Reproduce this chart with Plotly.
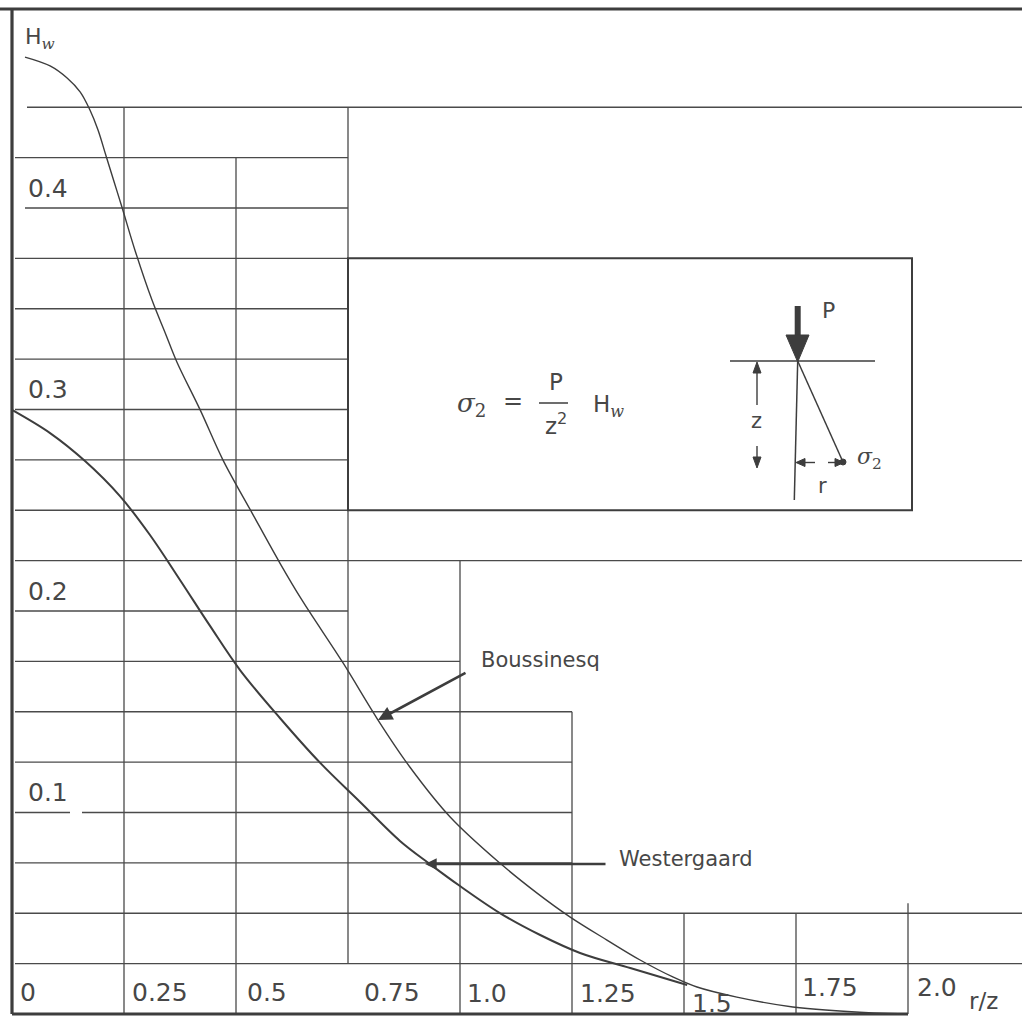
import plotly.graph_objects as go

# ---------------- data ----------------
rz_boussinesq = [0.029, 0.085, 0.123, 0.152, 0.174, 0.192, 0.210, 0.228, 0.246, 0.275,
                 0.3125, 0.342, 0.368, 0.420, 0.471, 0.536, 0.598, 0.647, 0.739, 0.817,
                 0.888, 0.978, 1.089, 1.172, 1.246, 1.328, 1.402, 1.475,
                 1.529, 1.618, 1.743, 1.922, 2.0]
h_boussinesq = [0.4749, 0.4705, 0.4645, 0.4576, 0.4486, 0.4387, 0.4258, 0.4129, 0.400, 0.3787,
                0.3543, 0.3380, 0.3236, 0.2998, 0.2749, 0.2486, 0.2238, 0.2055, 0.1742, 0.1459,
                0.1226, 0.0978, 0.0749, 0.0600, 0.0481, 0.0367, 0.0268, 0.0184,
                0.0134, 0.0084, 0.0035, 0.0005, 0.0]

rz_westergaard = [0.0, 0.085, 0.163, 0.241, 0.308, 0.375, 0.442, 0.509, 0.598, 0.688,
                  0.777, 0.866, 0.933, 1.0, 1.089, 1.179, 1.268, 1.380, 1.507]
h_westergaard = [0.2998, 0.2883, 0.2744, 0.2570, 0.2377, 0.2154, 0.1926, 0.1707, 0.1469, 0.1246,
                 0.1052, 0.0859, 0.0744, 0.0635, 0.0501, 0.0392, 0.0303, 0.0228, 0.0144]

x_tick_values = [0, 0.25, 0.5, 0.75, 1.0, 1.25, 1.5, 1.75, 2.0]
x_tick_labels = ["0", "0.25", "0.5", "0.75", "1.0", "1.25", "1.5", "1.75", "2.0"]
y_tick_values = [0.1, 0.2, 0.3, 0.4]
y_tick_labels = ["0.1", "0.2", "0.3", "0.4"]

# ---------------- layout helpers (pixel calibration of the page) ----------------
W, H = 1022, 1017
X0_PX, X_PER = 12, 448
Y0_PX, Y_PER = 1014, 2015


def X(px):
    return (px - X0_PX) / X_PER


def Y(py):
    return (Y0_PX - py) / Y_PER


XMIN, XMAX = X(0), X(W)
YMIN, YMAX = Y(H), Y(0)

INK = "#3d3d3d"
GRID = "#4a4a4a"
TXT = "#474747"
SANS = "DejaVu Sans"
SERIF = "DejaVu Serif"

fig = go.Figure()

fig.add_trace(go.Scatter(x=rz_boussinesq, y=h_boussinesq, mode="lines",
                         line=dict(color=INK, width=1.4, shape="spline", smoothing=1.0),
                         hoverinfo="skip", showlegend=False))
fig.add_trace(go.Scatter(x=rz_westergaard, y=h_westergaard, mode="lines",
                         line=dict(color=INK, width=2.0, shape="spline", smoothing=1.0),
                         hoverinfo="skip", showlegend=False))

shapes = []


def seg(x0, y0, x1, y1, w=1.3, color=GRID, layer="below"):
    shapes.append(dict(type="line", xref="x", yref="y", x0=x0, y0=y0, x1=x1, y1=y1,
                       line=dict(color=color, width=w), layer=layer))


def tri(pts, color=INK):
    path = "M " + " L ".join(f"{X(a)},{Y(b)}" for a, b in pts) + " Z"
    shapes.append(dict(type="path", xref="x", yref="y", path=path,
                       fillcolor=color, line=dict(color=color, width=1), layer="above"))


# horizontal grid segments: (H value, r/z from, r/z to)
left = X(15)
h_grid = [
    (0.45, X(27), XMAX), (0.425, left, 0.75), (0.40, X(25), 0.75), (0.375, left, 0.75),
    (0.35, left, 0.75), (0.325, left, 0.75), (0.30, left, 0.75), (0.275, left, 0.75),
    (0.25, left, 0.75), (0.225, left, XMAX), (0.20, left, 0.75), (0.175, left, 1.0),
    (0.15, left, 1.25), (0.125, left, 1.25), (0.10, left, X(70)), (0.10, X(82), 1.25),
    (0.075, left, 1.25), (0.05, left, XMAX), (0.025, left, XMAX),
]
for hv, a, b in h_grid:
    seg(a, hv, b, hv)

# vertical grid segments: (r/z value, H from, H to)
v_grid = [(0.25, 0, 0.45), (0.5, 0, 0.425), (0.75, 0.025, 0.45), (1.0, 0, 0.225),
          (1.25, 0, 0.15), (1.5, 0, 0.05), (1.75, 0, 0.05), (2.0, 0, 0.055)]
for xv, a, b in v_grid:
    seg(xv, a, xv, b)

# frame lines
seg(XMIN, Y(9), XMAX, Y(9), w=3, color=INK)
seg(0, 0, 0, Y(9), w=3.2, color=INK)
seg(0, 0, 2.0, 0, w=3, color=INK)

# inset box
shapes.append(dict(type="rect", xref="x", yref="y", x0=0.75, x1=X(912), y0=0.25, y1=0.375,
                   line=dict(color=INK, width=2), fillcolor="white", layer="below"))

# inset diagram
seg(X(539), Y(403), X(568), Y(403), w=1.5, color=INK, layer="above")      # fraction bar
seg(X(797.7), Y(306), X(797.7), Y(340), w=6, color=INK, layer="above")   # P shaft
tri([(786, 335), (809, 335), (797.7, 362)])
seg(X(730), Y(361), X(875), Y(361), w=1.6, color=INK, layer="above")     # surface
seg(X(797.7), Y(361), X(794.3), Y(500), w=1.5, color=INK, layer="above")
seg(X(797.7), Y(361), X(843), Y(462), w=1.5, color=INK, layer="above")
shapes.append(dict(type="circle", xref="x", yref="y", x0=X(840), x1=X(846), y0=Y(459), y1=Y(465),
                   fillcolor=INK, line=dict(color=INK, width=1)))
seg(X(757), Y(368), X(757), Y(405), w=1.4, color=INK, layer="above")
tri([(753, 373), (761, 373), (757, 362)])
seg(X(757), Y(446), X(757), Y(460), w=1.4, color=INK, layer="above")
tri([(753, 457), (761, 457), (757, 468)])
seg(X(803), Y(462.5), X(815), Y(462.5), w=1.4, color=INK, layer="above")
tri([(805, 458.5), (805, 466.5), (796, 462.5)])
seg(X(828), Y(462.5), X(837), Y(462.5), w=1.4, color=INK, layer="above")
tri([(835, 458.5), (835, 466.5), (844, 462.5)])

annotations = []


def txt(px, py, s, size, anchor="left", family=SANS, yanchor="middle"):
    annotations.append(dict(x=X(px), y=Y(py), xref="x", yref="y", text=s, showarrow=False,
                            xanchor=anchor, yanchor=yanchor,
                            font=dict(family=family, size=size, color=TXT)))


W_SUB = "H<sub><span style='font-family:DejaVu Serif'><i>w</i></span></sub>"

# axis tick labels
x_label_px = [18, 130, 245, 362, 465, 578, 690, 800, 915]
x_label_py = [992, 992, 992, 992, 993, 993, 1003, 987, 987]
for lab, px, py in zip(x_tick_labels, x_label_px, x_label_py):
    txt(px, py, lab, 25)
for lab, v in zip(y_tick_labels, y_tick_values):
    txt(26, Y0_PX - v * Y_PER - 20, lab, 25)

txt(967, 1001, "r/z", 23)
txt(23, 38, W_SUB, 22)

# formula
txt(471, 404, "<i>σ</i><sub>2</sub>", 26, anchor="center", family=SERIF)
txt(513, 401, "=", 24, anchor="center")
txt(556, 382, "P", 23, anchor="center")
txt(556, 424, "z<sup>2</sup>", 23, anchor="center")
txt(608, 406, W_SUB, 23, anchor="center")
txt(828, 310, "P", 22, anchor="center")
txt(869, 458, "<i>σ</i><sub>2</sub>", 22, anchor="center", family=SERIF)
txt(756, 421, "z", 21, anchor="center")
txt(822, 486, "r", 21, anchor="center")

# curve labels with pointers
txt(479, 660, "Boussinesq", 21)
txt(617, 859, "Westergaard", 21)
annotations.append(dict(x=X(378), y=Y(720), ax=X(467), ay=Y(672), xref="x", yref="y",
                        axref="x", ayref="y", text="", showarrow=True, arrowhead=2,
                        arrowsize=1.1, arrowwidth=2.6, arrowcolor=INK))
annotations.append(dict(x=X(425), y=Y(864), ax=X(607), ay=Y(864), xref="x", yref="y",
                        axref="x", ayref="y", text="", showarrow=True, arrowhead=2,
                        arrowsize=0.9, arrowwidth=2.6, arrowcolor=INK))

fig.update_layout(
    width=W, height=H,
    margin=dict(l=0, r=0, t=0, b=0, pad=0),
    paper_bgcolor="white", plot_bgcolor="white",
    xaxis=dict(range=[XMIN, XMAX], visible=False, fixedrange=True),
    yaxis=dict(range=[YMIN, YMAX], visible=False, fixedrange=True),
    shapes=shapes, annotations=annotations, showlegend=False,
)

fig.write_html("out.html", config={"displayModeBar": False},
               post_script="document.body.style.margin='0';")
